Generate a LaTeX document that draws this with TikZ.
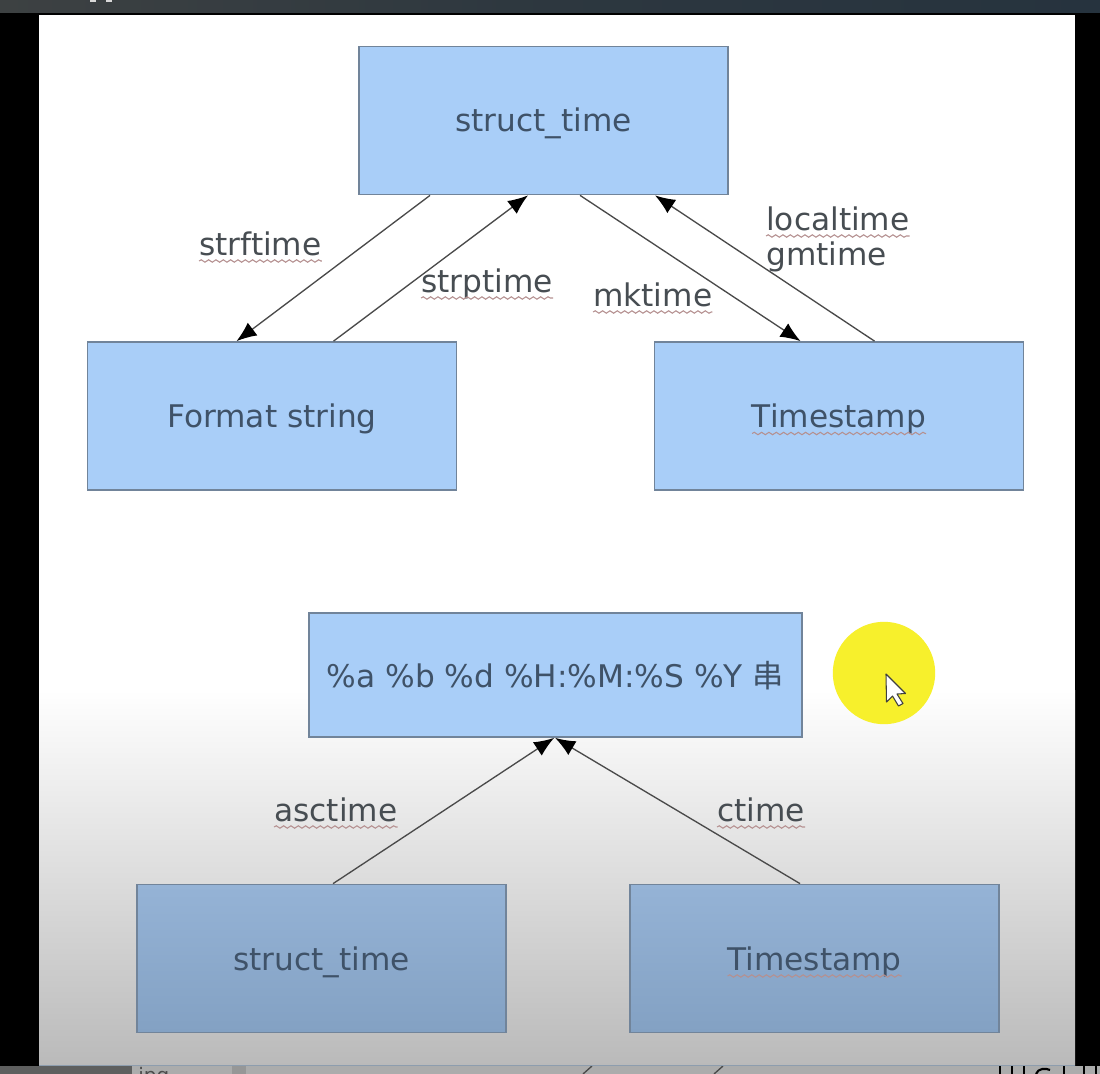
\documentclass[tikz,border=0pt]{standalone}
\usepackage{fontspec}
\setmainfont{DejaVu Sans}
\newfontfamily\cjkfont{Noto Sans CJK SC}
\usetikzlibrary{arrows.meta,calc,decorations.pathmorphing,shadings}
\definecolor{boxtop}{HTML}{A9CEF8}
\definecolor{boxlow}{HTML}{95B3D6}
\definecolor{boxlowb}{HTML}{83A1C3}
\definecolor{boxedge}{HTML}{71849A}
\definecolor{inktext}{HTML}{474D52}
\definecolor{boxink}{HTML}{3F5268}
\definecolor{linkcol}{HTML}{4A4A4A}
\definecolor{squig}{HTML}{B59090}
\definecolor{panelend}{HTML}{BABABA}
\definecolor{stripcol}{HTML}{ABACAC}
\definecolor{barleft}{HTML}{3D4142}
\definecolor{barright}{HTML}{26333E}
\definecolor{spot}{HTML}{F7F02C}
\tikzset{
  x=0.75pt,y=-0.75pt,
  flowbox/.style={draw=boxedge,line width=1.3pt,rectangle,inner sep=0pt,
    minimum width=276.9pt,minimum height=111pt,text=boxink,
    font=\fontsize{23.4pt}{28pt}\selectfont,text height=17.25pt,text depth=0pt,anchor=center},
  upperbox/.style={flowbox,fill=boxtop},
  lowerbox/.style={flowbox,top color=boxlow,bottom color=boxlowb},
  tag/.style={anchor=base west,inner sep=0pt,text=inktext,
    font=\fontsize{23.4pt}{28pt}\selectfont},
  link/.style={draw=linkcol,line width=1pt,-{Latex[length=15pt,width=12pt,color=black]}},
  squiggle/.style={draw=squig,line width=0.8pt,decorate,
    decoration={snake,amplitude=0.9pt,segment length=5.5pt}},
}
\begin{document}
\begin{tikzpicture}
\useasboundingbox (0,0) rectangle (1100,1074);
% surroundings
\fill[black] (0,0) rectangle (1100,1074);
\shade[left color=barleft,right color=barright,middle color=barright!70!barleft] (0,0) rectangle (1100,13);
\fill[stripcol] (0,1066) rectangle (1100,1074);
\fill[stripcol!55!black] (0,1066) rectangle (132,1074);
\fill[stripcol!88!black] (232,1066) rectangle (246,1074);
\fill[white!85!black] (90,0) rectangle (96,2);
\fill[white!85!black] (106,0) rectangle (112,2);
% panel
\fill[white] (39,15) rectangle (1075,690);
\shade[top color=white,bottom color=panelend] (39,690) rectangle (1075,1065);
\draw[color=boxedge!80!white,line width=0.8pt] (39,1065.5) -- (1075,1065.5);
% clipped word and strokes at the lower edge
\begin{scope}
\clip (0,1066) rectangle (1100,1074);
\node[anchor=base west,inner sep=0pt,text=black!70,font=\fontsize{15pt}{18pt}\selectfont] (lowword) at (138,1082) {jpg};
\draw[linkcol,line width=1pt] (592,1066) -- (583,1074) (723,1066) -- (714,1074);
\draw[black,line width=1.6pt] (1000,1066) -- (1000,1074) (1012,1066) -- (1012,1074) (1024,1066) -- (1024,1074)
  (1064,1066) -- (1064,1074) (1084,1066) -- (1084,1074) (1096,1066) -- (1096,1074);
\draw[black,line width=1.6pt] (1036,1074) .. controls (1038,1068) and (1046,1068) .. (1050,1070);
\end{scope}
% boxes
\node[upperbox] (st) at (543.5,120.5) {struct\_time};
\node[upperbox] (fs) at (272,416) {Format string};
\node[upperbox] (ts) at (839,416) {Timestamp};
\node[upperbox,minimum width=369.75pt,minimum height=93pt,text height=18pt] (as) at (555.5,675) {\%a \%b \%d \%H:\%M:\%S \%Y {\cjkfont 串}};
\node[lowerbox] (sb) at (321.5,958.5) {struct\_time};
\node[lowerbox] (tb) at (814.5,958.5) {Timestamp};
% connector ends on the box borders
\coordinate (stA) at ($(st.south west)+(72,0)$);
\coordinate (stB) at ($(st.south west)+(170,0)$);
\coordinate (stC) at ($(st.south west)+(222,0)$);
\coordinate (stD) at ($(st.south west)+(297,0)$);
\coordinate (fsA) at ($(fs.north west)+(150,0)$);
\coordinate (fsB) at ($(fs.north west)+(247,0)$);
\coordinate (tsA) at ($(ts.north west)+(147,0)$);
\coordinate (tsB) at ($(ts.north west)+(221,0)$);
\coordinate (asA) at ($(as.south west)+(246,0)$);
\coordinate (asB) at ($(as.south west)+(247,0)$);
\coordinate (sbA) at ($(sb.north west)+(197,0)$);
\coordinate (tbA) at ($(tb.north west)+(171,0)$);
\draw[link] (stA) -- (fsA);
\draw[link] (fsB) -- (stB);
\draw[link] (stC) -- (tsA);
\draw[link] (tsB) -- (stD);
\draw[link] (sbA) -- (asA);
\draw[link] (tbA) -- (asB);
% labels
\node[tag] (lstrf) at (199,255) {strftime};
\node[tag] (lstrp) at (421,292) {strptime};
\node[tag] (lmk) at (593,306) {mktime};
\node[tag] (lloc) at (766,230) {localtime};
\node[tag] (lgm) at (766,265) {gmtime};
\node[tag] (lasc) at (274,821) {asctime};
\node[tag] (lct) at (717,821) {ctime};
% spell-check underlines
\foreach \n in {lstrf,lstrp,lmk,lloc,lasc,lct}
  \draw[squiggle] ($(\n.base west)+(0,6)$) -- ($(\n.base east)+(0,6)$);
\draw[squiggle] ($(ts.base)+(-87,6)$) -- ($(ts.base)+(87,6)$);
\draw[squiggle] ($(tb.base)+(-87,6)$) -- ($(tb.base)+(87,6)$);
% pointer highlight
\fill[spot] (884,673) circle[radius=38.4pt];
\draw[fill=white,draw=black!75,line width=0.8pt,line join=round]
  (886,674) -- (886.5,702) -- (892.5,696) -- (898.5,706) -- (903,703.5) -- (897,694) -- (905.5,693.5) -- cycle;
\end{tikzpicture}
\end{document}
